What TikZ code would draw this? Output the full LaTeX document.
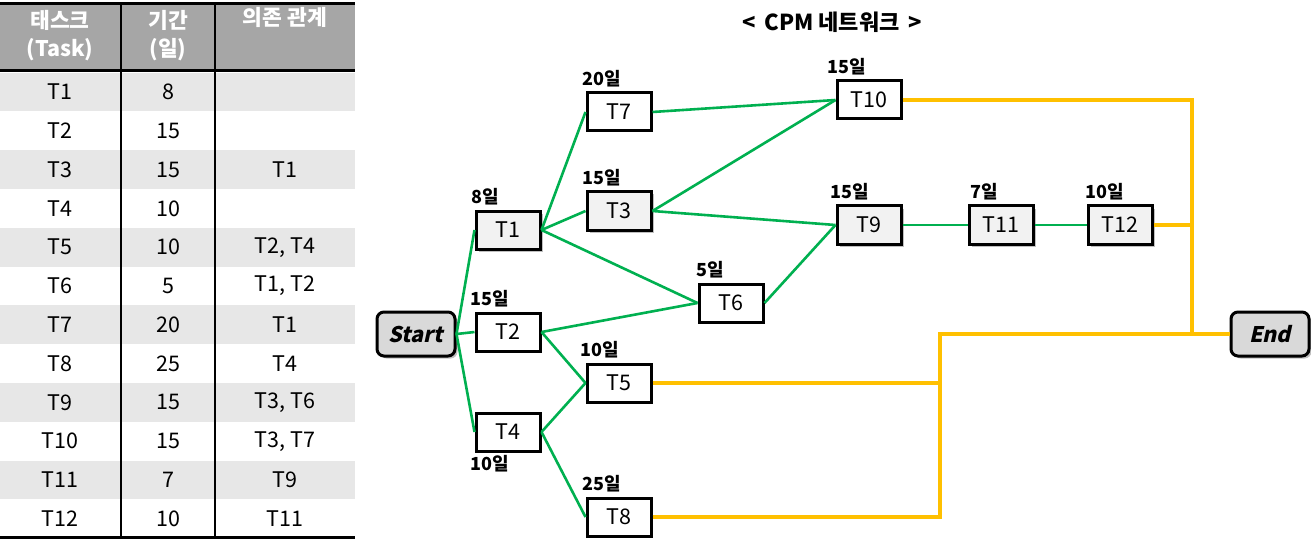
\documentclass[tikz,border=0pt]{standalone}
\usepackage{fontspec}
\setmainfont{Noto Sans CJK KR}
\newfontfamily\termfont{Noto Sans CJK KR}[FakeSlant=0.22]
\usetikzlibrary{positioning, shadows}
\definecolor{cpmgreen}{RGB}{0,176,80}
\definecolor{cpmgold}{RGB}{255,192,0}
\definecolor{hdrgray}{RGB}{166,166,166}
\definecolor{rowgray}{RGB}{231,231,231}
\definecolor{critfill}{RGB}{242,242,242}
\definecolor{termfill}{RGB}{217,217,217}

\begin{document}
\begin{tikzpicture}[
  x=1pt, y=-1pt,
  every node/.style={font=\fontsize{21.5}{24}\selectfont},
  cell/.style={inner sep=0pt},
  hdr/.style={text=white, font=\fontsize{21.5}{28}\selectfont\bfseries, align=center, inner sep=0pt},
  task/.style={draw, line width=3pt, fill=white, minimum width=64pt, minimum height=38pt, inner sep=0pt},
  crit/.style={task, fill=critfill, drop shadow={shadow xshift=2.5pt, shadow yshift=-2.5pt, fill=black!50}},
  term/.style={draw, line width=3pt, rounded corners=7pt, fill=termfill, minimum width=78pt, minimum height=44pt,
    font=\fontsize{21.5}{24}\selectfont\termfont\bfseries, drop shadow={shadow xshift=2.5pt, shadow yshift=-2.5pt, fill=black!50}},
  days/.style={font=\fontsize{18}{20}\selectfont\bfseries, inner sep=1pt},
  link/.style={cpmgreen, line width=2.6pt},
  late/.style={cpmgold, line width=3.6pt}
]
\useasboundingbox (0,0) rectangle (1311,548);

% table
\fill[hdrgray] (0,4) rectangle (355,70);
\node[hdr] (h1) at (60,36) {태스크\\(Task)};
\node[hdr] (h2) at (168,36) {기간\\(일)};
\node[hdr, anchor=north] (h3) at (285,7) {의존 관계};
\foreach \tk/\du/\dep [count=\i] in {T1/8/{}, T2/15/{}, T3/15/T1, T4/10/{}, T5/10/{T2, T4}, T6/5/{T1, T2},
    T7/20/T1, T8/25/T4, T9/15/{T3, T6}, T10/15/{T3, T7}, T11/7/T9, T12/10/T11} {
  \pgfmathsetmacro\ry{92+(\i-1)*38.8}
  \ifodd\i \fill[rowgray] (0,\ry-19.4) rectangle (355,\ry+19.4); \fi
  \node[cell] (tk\i) at (60,\ry) {\tk};
  \node[cell] (du\i) at (168,\ry) {\du};
  \node[cell] (dp\i) at (285,\ry) {\dep};
}
\draw[line width=1.2pt] (121,4) -- (121,538) (215,4) -- (215,538);
\draw[line width=3.5pt] (0,3.5) -- (355,3.5);
\draw[line width=2.8pt] (0,70.5) -- (355,70.5);
\draw[line width=2.8pt] (0,537.5) -- (355,537.5);

% network
\node[font=\fontsize{22}{24}\selectfont\bfseries] (title) at (832,22) {<\, CPM 네트워크 \,>};
\node[term] (Start) at (416,334) {Start};
\node[term] (End) at (1270,334) {End};
\node[crit] (T1) at (508,230) {T1};
\node[task] (T2) at (508,332) {T2};
\node[task] (T4) at (508,432) {T4};
\node[task] (T7) at (619,112) {T7};
\node[crit] (T3) at (619,211) {T3};
\node[task] (T5) at (619,383) {T5};
\node[task] (T8) at (619,517) {T8};
\node[task] (T10) at (869,100) {T10};
\node[task] (T6) at (731,303) {T6};
\node[crit] (T9) at (869,225) {T9};
\node[crit] (T11) at (1001,225) {T11};
\node[crit] (T12) at (1120,225) {T12};

\node[days, above right=3pt and -4pt of T1.north west] (d1) {8일};
\node[days, above right=3pt and -5pt of T2.north west] (d2) {15일};
\node[days, below right=2pt and -5pt of T4.south west] (d4) {10일};
\node[days, above right=3pt and -4pt of T7.north west] (d7) {20일};
\node[days, above right=3pt and -4pt of T3.north west] (d3) {15일};
\node[days, above right=3pt and -6pt of T5.north west] (d5) {10일};
\node[days, above right=3pt and -4pt of T8.north west] (d8) {25일};
\node[days, above right=3pt and -9pt of T10.north west] (d10) {15일};
\node[days, above right=3pt and -2pt of T6.north west] (d6) {5일};
\node[days, above right=3pt and -6pt of T9.north west] (d9) {15일};
\node[days, above right=3pt and 2pt of T11.north west] (d11) {7일};
\node[days, above right=3pt and -2pt of T12.north west] (d12) {10일};

\draw[link] (Start.east) -- (T1.west);
\draw[link] (Start.east) -- (T2.west);
\draw[link] (Start.east) -- (T4.west);
\draw[link] (T1.east) -- (T7.west);
\draw[link] (T1.east) -- (T3.west);
\draw[link] (T1.east) -- (T6.west);
\draw[link] (T2.east) -- (T6.west);
\draw[link] (T2.east) -- (T5.west);
\draw[link] (T4.east) -- (T5.west);
\draw[link] (T4.east) -- (T8.west);
\draw[link] (T7.east) -- (T10.west);
\draw[link] (T3.east) -- (T10.west);
\draw[link] (T3.east) -- (T9.west);
\draw[link] (T6.east) -- (T9.west);
\draw[link] (T9) -- (T11);
\draw[link] (T11) -- (T12);

\coordinate (jR) at (1192,334);
\coordinate (jL) at (940,334);
\draw[late] (T10.east) -| (jR) -- (End.west);
\draw[late] (T12.east) -- (T12.east -| jR);
\draw[late] (T5.east) -- (T5.east -| jL);
\draw[late] (T8.east) -| (jL) -- (jR);
\end{tikzpicture}
\end{document}
